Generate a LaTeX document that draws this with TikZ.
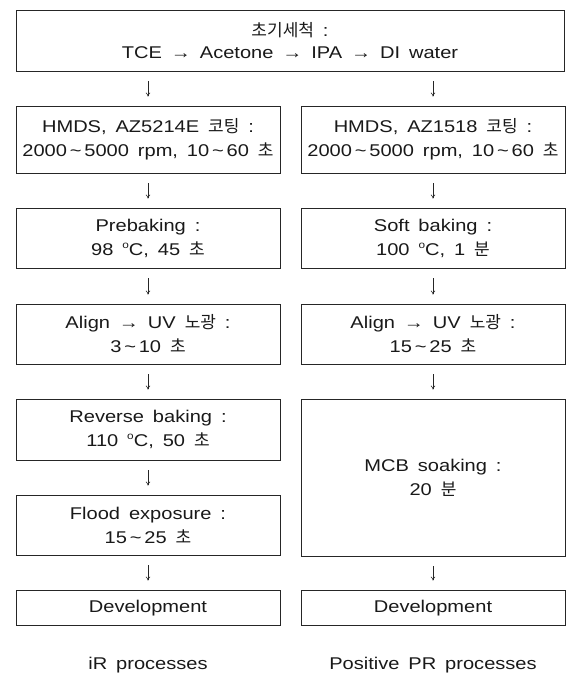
\documentclass[tikz,border=0pt]{standalone}
\usepackage{fontspec}
\setmainfont[FakeStretch=1.18,WordSpace=1.6]{Liberation Sans}
\newfontfamily\kr[FakeStretch=1.0,Scale=1.0]{Noto Sans CJK KR}
\usetikzlibrary{arrows.meta}
\newcommand{\tl}{\,\textasciitilde\,}
\newcommand{\dg}{\raisebox{0.75ex}{\fontsize{10}{10}\selectfont o}}
\tikzset{
  box/.style={draw=black!85, line width=0.7pt, align=center, inner sep=0pt,
    font=\fontsize{17}{24}\selectfont, text=black!90},
  col/.style={box, minimum width=264pt},
  lbl/.style={font=\fontsize{17}{24}\selectfont, text=black!90},
  arr/.style={draw=black!85, line width=0.6pt, -{To[length=4pt,width=4.5pt]},
    shorten <=10pt, shorten >=9pt}
}
\begin{document}
\begin{tikzpicture}[x=1pt,y={(0pt,-1pt)}]
\useasboundingbox (0,0) rectangle (569,680);
\node[box, minimum width=548pt, minimum height=61pt] (top) at (290,40.5)
  {{\kr 초기세척} :\\[-2pt]TCE → Acetone → IPA → DI water};
% left column
\node[col, minimum height=67pt] (l1) at (148,139.5)
  {HMDS, AZ5214E {\kr 코팅} :\\2000\tl5000 rpm, 10\tl60 {\kr 초}};
\node[col, minimum height=60pt] (l2) at (148,238)
  {Prebaking :\\98 \dg C, 45 {\kr 초}};
\node[col, minimum height=60pt] (l3) at (148,334)
  {Align → UV {\kr 노광} :\\3\tl10 {\kr 초}};
\node[col, minimum height=61pt] (l4) at (148,429.5)
  {Reverse baking :\\110 \dg C, 50 {\kr 초}};
\node[col, minimum height=60pt] (l5) at (148,525)
  {Flood exposure :\\15\tl25 {\kr 초}};
\node[col, minimum height=35pt] (l6) at (148,607.5) {Development\strut};
% right column
\node[col, minimum height=67pt] (r1) at (433,139.5)
  {HMDS, AZ1518 {\kr 코팅} :\\2000\tl5000 rpm, 10\tl60 {\kr 초}};
\node[col, minimum height=60pt] (r2) at (433,238)
  {Soft baking :\\100 \dg C, 1 {\kr 분}};
\node[col, minimum height=60pt] (r3) at (433,334)
  {Align → UV {\kr 노광} :\\15\tl25 {\kr 초}};
\node[col, minimum height=157pt] (r4) at (433,477.5)
  {MCB soaking :\\20 {\kr 분}};
\node[col, minimum height=35pt] (r5) at (433,607.5) {Development\strut};
% labels
\node[lbl] (labL) at (148,665) {iR processes};
\node[lbl] (labR) at (433,665) {Positive PR processes};
% connectors
\draw[arr] (l1 |- top.south) -- (l1.north);
\draw[arr] (r1 |- top.south) -- (r1.north);
\draw[arr] (l1.south) -- (l2.north);
\draw[arr] (l2.south) -- (l3.north);
\draw[arr] (l3.south) -- (l4.north);
\draw[arr] (l4.south) -- (l5.north);
\draw[arr] (l5.south) -- (l6.north);
\draw[arr] (r1.south) -- (r2.north);
\draw[arr] (r2.south) -- (r3.north);
\draw[arr] (r3.south) -- (r4.north);
\draw[arr] (r4.south) -- (r5.north);
\end{tikzpicture}
\end{document}
